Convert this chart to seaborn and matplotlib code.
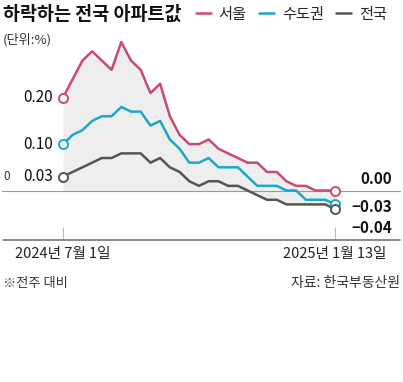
import pandas as pd
import numpy as np
import matplotlib
matplotlib.use("Agg")
import matplotlib.pyplot as plt
import seaborn as sns

# 주간 아파트 매매가격 변동률 (전주 대비, %)
dates = pd.date_range("2024-07-01", "2025-01-13", freq="7D")
seoul = [0.20, 0.24, 0.28, 0.30, 0.28, 0.26, 0.32, 0.28, 0.26, 0.21,
         0.23, 0.16, 0.12, 0.10, 0.10, 0.11, 0.09, 0.08, 0.07, 0.06,
         0.06, 0.04, 0.04, 0.02, 0.01, 0.01, 0.00, 0.00, 0.00]
capital = [0.10, 0.12, 0.13, 0.15, 0.16, 0.16, 0.18, 0.17, 0.17, 0.14,
           0.15, 0.11, 0.09, 0.06, 0.06, 0.07, 0.05, 0.05, 0.05, 0.03,
           0.01, 0.01, 0.01, 0.00, 0.00, -0.02, -0.02, -0.02, -0.03]
national = [0.03, 0.04, 0.05, 0.06, 0.07, 0.07, 0.08, 0.08, 0.08, 0.06,
            0.07, 0.05, 0.04, 0.02, 0.01, 0.02, 0.02, 0.01, 0.01, 0.00,
            -0.01, -0.02, -0.02, -0.03, -0.03, -0.03, -0.03, -0.03, -0.04]
series_names = ["서울", "수도권", "전국"]
colors = ["#c94a72", "#1ba8ca", "#555555"]
left_labels = ["0.20", "0.10", "0.03"]
right_labels = ["0.00", "\u22120.03", "\u22120.04"]
tick_labels = ["2024년 7월 1일", "2025년 1월 13일"]

df = pd.DataFrame({"date": dates, "서울": seoul, "수도권": capital, "전국": national})
long = df.melt(id_vars="date", var_name="지역", value_name="변동률")

sns.set_style("white")
plt.rcParams["font.family"] = ["Noto Sans CJK KR", "DejaVu Sans"]

W, H = 403, 382
fig = plt.figure(figsize=(W / 100, H / 100), dpi=100)
# plot area: from y=30px to the bottom axis at y=240px
ax = fig.add_axes([0, 1 - 240 / H, 1, 210 / H])

# pixel mapping: first week at x=63, last at x=335; 0.00 at y=190.5, 464 px per 1%p
span_days = (dates[-1] - dates[0]).days
px_per_day = (335 - 63) / span_days
ax.set_xlim(dates[0] - pd.Timedelta(days=63 / px_per_day),
            dates[0] + pd.Timedelta(days=(W - 63) / px_per_day))
ax.set_ylim((190.5 - 240) / 464, (190.5 - 30) / 464)

# shaded band
ax.fill_between(df["date"], df["서울"], np.minimum(df["전국"], 0),
                color="#eeeeee", lw=0, zorder=0)
ax.axhline(0, xmin=2 / W, xmax=400 / W, color="#999999", lw=0.8, zorder=1)

sns.lineplot(data=long, x="date", y="변동률", hue="지역", hue_order=series_names,
             palette=colors, lw=1.8, ax=ax, zorder=3)

# hollow endpoint markers
for name, c in zip(series_names, colors):
    ax.plot(df["date"].iloc[[0, -1]], df[name].iloc[[0, -1]], "o", ms=6.5,
            mfc="white", mec=c, mew=1.4, zorder=4)

# value labels
for name, lab in zip(series_names, left_labels):
    ax.annotate(lab, (df["date"].iloc[0], df[name].iloc[0]), xytext=(-7, 0),
                textcoords="offset points", ha="right", va="center",
                fontsize=11, color="#111111")
ax.annotate("0", (df["date"].iloc[0], national[0]), xytext=(-38, 0),
            textcoords="offset points", ha="right", va="center",
            fontsize=8.5, color="#333333")
offsets = [8, -2, -13.5]
for name, lab, off in zip(series_names, right_labels, offsets):
    ax.annotate(lab, (df["date"].iloc[-1], df[name].iloc[-1]),
                xytext=(41, off), textcoords="offset points",
                ha="right", va="center", fontsize=11, fontweight="bold",
                color="#111111")

# axis
for s in ax.spines.values():
    s.set_visible(False)
ax.axhline(ax.get_ylim()[0], xmin=3 / W, xmax=400 / W, color="#777777",
           lw=1.2, clip_on=False)
ax.set_xticks([dates[0], dates[-1]])
ax.set_xticklabels(tick_labels, fontsize=10.5, color="#222222")
ax.tick_params(axis="x", direction="in", length=9.5, width=0.8,
               color="#bbbbbb", pad=5, bottom=True)
ax.set_yticks([])
ax.set_xlabel("")
ax.set_ylabel("")

# legend
handles, labels = ax.get_legend_handles_labels()
ax.legend(handles, labels, loc="center right", bbox_to_anchor=(387 / W, 1 - 14 / H),
          bbox_transform=fig.transFigure, ncol=3, frameon=False, fontsize=11,
          handlelength=1.0, handletextpad=0.5, columnspacing=0.8,
          borderaxespad=0, borderpad=0)

fig.text(3 / W, 1 - 14 / H, "하락하는 전국 아파트값", fontsize=13.3,
         fontweight="bold", ha="left", va="center", color="#111111")
fig.text(3 / W, 1 - 40 / H, "(단위:%)", fontsize=9.5, ha="left", va="center",
         color="#333333")
fig.text(3 / W, 1 - 283 / H, "※전주 대비", fontsize=9.5, ha="left", va="center",
         color="#333333")
fig.text(400 / W, 1 - 283 / H, "자료: 한국부동산원", fontsize=10, ha="right",
         va="center", color="#333333")

fig.savefig("out.png", dpi=100, facecolor="white")
